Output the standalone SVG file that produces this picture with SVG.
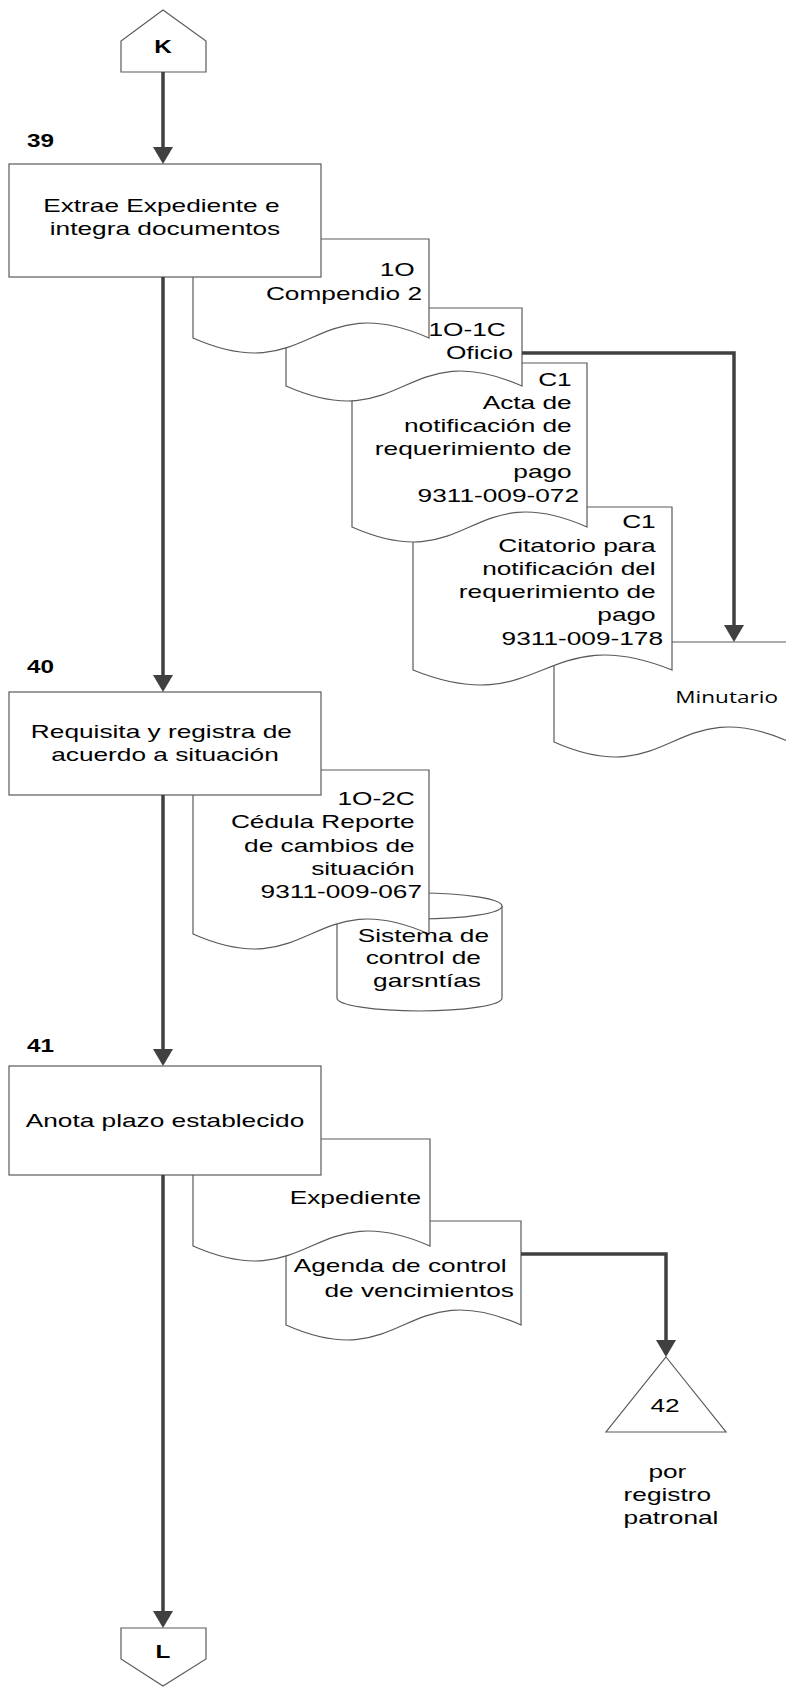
<svg xmlns="http://www.w3.org/2000/svg" width="786" height="1687" viewBox="0 0 786 1687">
<style>
.shape{fill:#fff;stroke:#5a5a5a;stroke-width:1.2}
.t{font-family:"Liberation Sans",Arial,sans-serif;font-size:17.5px;fill:#000}
.b{font-family:"Liberation Sans",Arial,sans-serif;font-size:18px;font-weight:bold;fill:#000}
.r{text-anchor:end}
.m{text-anchor:middle}
.conn{fill:none;stroke:#404040;stroke-width:3.5}
.os{font-family:"Open Sans","Liberation Sans",sans-serif;font-size:16px;fill:#000;text-anchor:end}
</style>
<defs>
<marker id="arr" viewBox="0 0 17 20" refX="7" refY="10" markerWidth="17" markerHeight="20" markerUnits="userSpaceOnUse" orient="auto">
<path d="M0,0 L17,10 L0,20 Z" fill="#404040"/>
</marker>
</defs>

<!-- step numbers -->
<g id="labels">
<text class="b" transform="translate(27 0) scale(1.35 1)" x="0" y="147">39</text>
<text class="b" transform="translate(27 0) scale(1.35 1)" x="0" y="673">40</text>
<text class="b" transform="translate(27 0) scale(1.35 1)" x="0" y="1052">41</text>
</g>

<g id="node-K">
<polygon class="shape" points="163,10 206,41 206,72 121,72 121,41"/>
<text class="b m" transform="translate(163 0) scale(1.35 1)" x="0" y="53">K</text>
</g>

<!-- documents of step 39, drawn back to front -->
<g id="node-minutario">
<path class="shape" d="M554,642 H790 V742 C672,690 672,794 554,742 Z"/>
<text class="os" transform="translate(778 0) scale(1.41 1)" x="0" y="703">Minutario</text>
</g>
<g id="node-citatorio">
<path class="shape" d="M413,507 H672 V670 C542.5,618 542.5,722 413,670 Z"/>
<text class="t r" transform="translate(663 0) scale(1.5 1)">
<tspan x="0" y="528">C1</tspan>
<tspan x="0" y="552">Citatorio para</tspan>
<tspan x="0" y="575">notificación del</tspan>
<tspan x="0" y="598">requerimiento de</tspan>
<tspan x="0" y="621">pago</tspan>
<tspan x="0" y="645">9311-009-178</tspan>
</text>
</g>
<g id="node-acta">
<path class="shape" d="M352,363 H587 V527 C469.5,475 469.5,579 352,527 Z"/>
<text class="t r" transform="translate(579 0) scale(1.5 1)">
<tspan x="0" y="386">C1</tspan>
<tspan x="0" y="409">Acta de</tspan>
<tspan x="0" y="432">notificación de</tspan>
<tspan x="0" y="455">requerimiento de</tspan>
<tspan x="0" y="478">pago</tspan>
<tspan x="0" y="502">9311-009-072</tspan>
</text>
</g>
<g id="node-oficio">
<path class="shape" d="M286,308 H522 V386 C404,334 404,438 286,386 Z"/>
<text class="t r" transform="translate(513 0) scale(1.5 1)">
<tspan x="0" y="336">1O-1C</tspan>
<tspan x="0" y="359">Oficio</tspan>
</text>
</g>
<g id="node-compendio">
<path class="shape" d="M193,239 H429 V338 C311,286 311,390 193,338 Z"/>
<text class="t r" transform="translate(422 0) scale(1.5 1)">
<tspan x="0" y="276">1O</tspan>
<tspan x="0" y="300">Compendio 2</tspan>
</text>
</g>
<g id="node-39">
<rect class="shape" x="9" y="164" width="312" height="113"/>
<text class="t m" transform="translate(165 0) scale(1.5 1)">
<tspan x="0" y="212">Extrae Expediente e</tspan>
<tspan x="0" y="235">integra documentos</tspan>
</text>
</g>

<!-- step 40 -->
<g id="node-sistema">
<path class="shape" d="M337,906 A82.5,13 0 0 1 502,906 V998 A82.5,13 0 0 1 337,998 Z"/>
<path class="shape" fill="none" d="M337,906 A82.5,13 0 0 0 502,906"/>
</g>
<g id="node-cedula">
<path class="shape" d="M193,770 H429 V934 C311,882 311,986 193,934 Z"/>
<text class="t r" transform="translate(422 0) scale(1.5 1)">
<tspan x="0" y="805">1O-2C</tspan>
<tspan x="0" y="828">Cédula Reporte</tspan>
<tspan x="0" y="852">de cambios de</tspan>
<tspan x="0" y="875">situación</tspan>
<tspan x="0" y="898">9311-009-067</tspan>
</text>
</g>
<g id="node-sistema-label">
<text class="t m" transform="translate(427 0) scale(1.5 1)">
<tspan x="0" y="942">Sistema de</tspan>
<tspan x="0" y="964">control de</tspan>
<tspan x="0" y="987">garsntías</tspan>
</text>
</g>
<g id="node-40">
<rect class="shape" x="9" y="692" width="312" height="103"/>
<text class="t m" transform="translate(165 0) scale(1.5 1)">
<tspan x="0" y="738">Requisita y registra de</tspan>
<tspan x="0" y="761">acuerdo a situación</tspan>
</text>
</g>

<!-- step 41 -->
<g id="node-agenda">
<path class="shape" d="M286,1221 H521 V1325 C403.5,1273 403.5,1377 286,1325 Z"/>
<text class="t r" transform="translate(514 0) scale(1.5 1)">
<tspan x="0" y="1272">Agenda de control</tspan>
<tspan x="0" y="1297">de vencimientos</tspan>
</text>
</g>
<g id="node-expediente">
<path class="shape" d="M193,1139 H430 V1246 C311.5,1194 311.5,1298 193,1246 Z"/>
<text class="t r" transform="translate(421 0) scale(1.5 1)" x="0" y="1204">Expediente</text>
</g>
<g id="node-41">
<rect class="shape" x="9" y="1066" width="312" height="109"/>
<text class="t m" transform="translate(165 0) scale(1.5 1)" x="0" y="1127">Anota plazo establecido</text>
</g>

<g id="node-42">
<polygon class="shape" points="666,1357 726,1432 606,1432"/>
<text class="t m" transform="translate(665 0) scale(1.5 1)" x="0" y="1412">42</text>
<text class="t m" transform="translate(671 0) scale(1.5 1)">
<tspan x="0" y="1478">por</tspan>
<tspan x="0" y="1501">registro</tspan>
<tspan x="0" y="1524">patronal</tspan>
</text>
</g>

<g id="node-L">
<polygon class="shape" points="121,1628 206,1628 206,1659 163,1686 121,1659"/>
<text class="b m" transform="translate(163 0) scale(1.35 1)" x="0" y="1658">L</text>
</g>

<g id="connectors">
<path class="conn" d="M163,72 V154" marker-end="url(#arr)"/>
<path class="conn" d="M163,277 V682" marker-end="url(#arr)"/>
<path class="conn" d="M163,795 V1056" marker-end="url(#arr)"/>
<path class="conn" d="M163,1175 V1618" marker-end="url(#arr)"/>
<path class="conn" d="M522,353 H734 V632" marker-end="url(#arr)"/>
<path class="conn" d="M521,1254 H666 V1347" marker-end="url(#arr)"/>
</g>
</svg>
